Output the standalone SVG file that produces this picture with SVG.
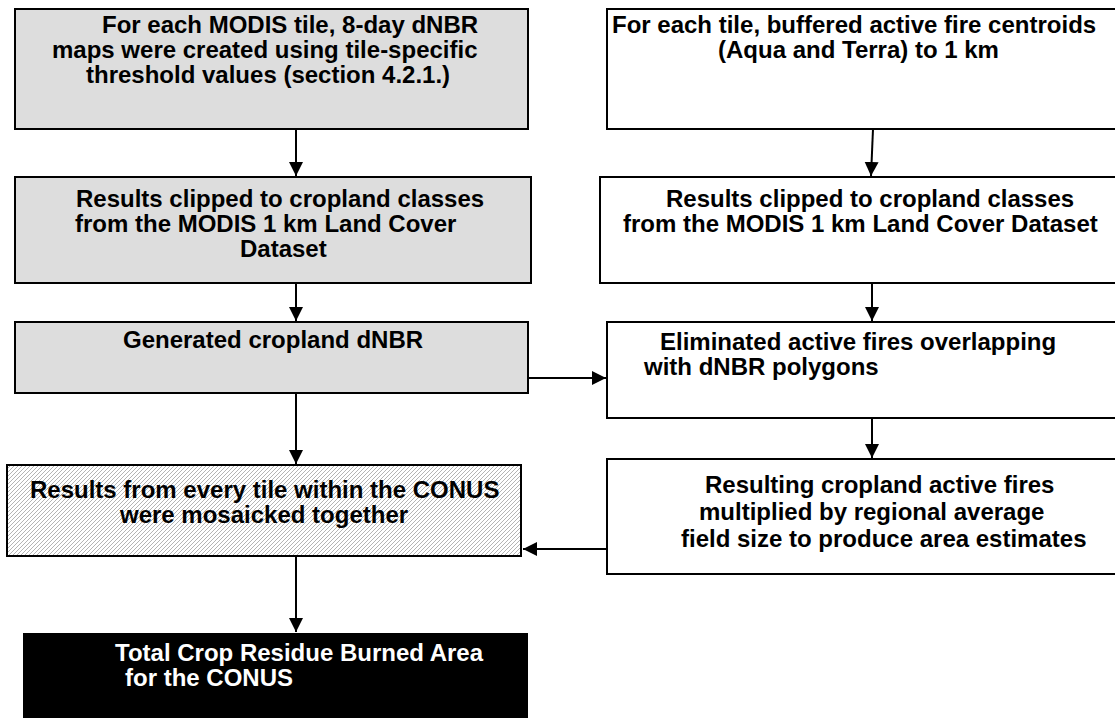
<svg xmlns="http://www.w3.org/2000/svg" width="1115" height="719" viewBox="0 0 1115 719">
<style>
.box{stroke:#000;stroke-width:2}
.gray{fill:#dddddd}
.white{fill:#ffffff}
.t{font-family:"Liberation Sans",Arial,sans-serif;font-weight:bold;font-size:24px;fill:#000}
.w{fill:#ffffff}
.c{stroke:#000;stroke-width:2;fill:none}
</style>
<defs>
<pattern id="hatch" patternUnits="userSpaceOnUse" width="4" height="4">
<rect width="4" height="4" fill="#ffffff"/>
<path d="M-1,1 l2,-2 M0,4 l4,-4 M3,5 l2,-2" stroke="#b4b4b4" stroke-width="1"/>
</pattern>
<marker id="ah" markerUnits="userSpaceOnUse" markerWidth="16" markerHeight="16" refX="14" refY="7" orient="auto">
<path d="M0,0 L14,7 L0,14 Z" fill="#000"/>
</marker>
</defs>
<g id="n1"><rect class="box gray" x="15" y="9" width="513" height="120"/>
<text class="t" x="102" y="33">For each MODIS tile, 8-day dNBR</text>
<text class="t" x="52" y="58">maps were created using tile-specific</text>
<text class="t" x="86" y="83">threshold values (section 4.2.1.)</text></g>
<g id="n2"><rect class="box gray" x="15" y="177" width="516" height="106"/>
<text class="t" x="76" y="207">Results clipped to cropland classes</text>
<text class="t" x="75" y="232">from the MODIS 1 km Land Cover</text>
<text class="t" x="240" y="257">Dataset</text></g>
<g id="n3"><rect class="box gray" x="15" y="322" width="513" height="71"/>
<text class="t" x="123" y="348">Generated cropland dNBR</text></g>
<g id="n4"><rect class="box" fill="url(#hatch)" x="7" y="465" width="514" height="91"/>
<text class="t" x="30" y="498">Results from every tile within the CONUS</text>
<text class="t" x="120" y="523">were mosaicked together</text></g>
<g id="n5"><rect x="23" y="633" width="505" height="85" fill="#000"/>
<text class="t w" x="115" y="661">Total Crop Residue Burned Area</text>
<text class="t w" x="125" y="686">for the CONUS</text></g>
<g id="n6"><rect class="box white" x="607" y="9" width="510" height="120"/>
<text class="t" x="612" y="33">For each tile, buffered active fire centroids</text>
<text class="t" x="718" y="58">(Aqua and Terra) to 1 km</text></g>
<g id="n7"><rect class="box white" x="600" y="177" width="517" height="106"/>
<text class="t" x="666" y="207">Results clipped to cropland classes</text>
<text class="t" x="623" y="232">from the MODIS 1 km Land Cover Dataset</text></g>
<g id="n8"><rect class="box white" x="607" y="322" width="510" height="96"/>
<text class="t" x="660" y="350">Eliminated active fires overlapping</text>
<text class="t" x="644" y="375">with dNBR polygons</text></g>
<g id="n9"><rect class="box white" x="607" y="459" width="510" height="115"/>
<text class="t" x="705" y="493">Resulting cropland active fires</text>
<text class="t" x="699" y="520">multiplied by regional average</text>
<text class="t" x="681" y="547">field size to produce area estimates</text></g>
<g id="connectors">
<line class="c" x1="296" y1="129" x2="296" y2="176" marker-end="url(#ah)"/>
<line class="c" x1="296" y1="283" x2="296" y2="321" marker-end="url(#ah)"/>
<line class="c" x1="296" y1="393" x2="296" y2="464" marker-end="url(#ah)"/>
<line class="c" x1="296" y1="556" x2="296" y2="632" marker-end="url(#ah)"/>
<line class="c" x1="873" y1="129" x2="871" y2="176" marker-end="url(#ah)"/>
<line class="c" x1="872" y1="283" x2="872" y2="321" marker-end="url(#ah)"/>
<line class="c" x1="872" y1="418" x2="872" y2="458" marker-end="url(#ah)"/>
<line class="c" x1="528" y1="378" x2="606" y2="378" marker-end="url(#ah)"/>
<line class="c" x1="607" y1="549" x2="523" y2="549" marker-end="url(#ah)"/>
</g>
</svg>
